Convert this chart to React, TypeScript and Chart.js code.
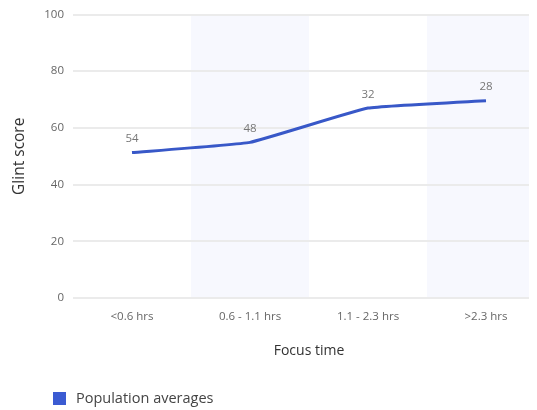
import React, { useEffect, useRef } from "react";
import { Chart, registerables } from "chart.js";

Chart.register(...registerables);

const categories = ["<0.6 hrs", "0.6 - 1.1 hrs", "1.1 - 2.3 hrs", ">2.3 hrs"];
const scores = [51.3, 54.9, 67.0, 69.6];
const counts = [54, 48, 32, 28];
const yTicks = [0, 20, 40, 60, 80, 100];
const shadedBands = [1, 3];
const seriesName = "Population averages";
const xTitle = "Focus time";
const yTitle = "Glint score";

const FONT = "'Open Sans', 'Noto Sans', sans-serif";
const LINE_COLOR = "#3858c8";

const bandPlugin = {
  id: "bands",
  beforeDraw(chart: any) {
    const { ctx, chartArea, scales } = chart;
    const x = scales.x;
    const w = x.width / categories.length;
    ctx.save();
    ctx.fillStyle = "#f7f8fe";
    shadedBands.forEach((i) => {
      const cx = x.getPixelForValue(i);
      ctx.fillRect(cx - w / 2, chartArea.top, w, chartArea.bottom - chartArea.top);
    });
    ctx.restore();
  },
};

const labelPlugin = {
  id: "pointLabels",
  afterDatasetsDraw(chart: any) {
    const { ctx } = chart;
    const meta = chart.getDatasetMeta(0);
    ctx.save();
    ctx.font = `11.5px ${FONT}`;
    ctx.fillStyle = "#777777";
    ctx.textAlign = "center";
    ctx.textBaseline = "bottom";
    meta.data.forEach((pt: any, i: number) => {
      ctx.fillText(String(counts[i]), pt.x, pt.y - 8);
    });
    ctx.restore();
  },
};

export default function App() {
  const ref = useRef<HTMLCanvasElement | null>(null);

  useEffect(() => {
    if (!ref.current) return;
    const chart = new Chart(ref.current, {
      type: "line",
      data: {
        labels: categories,
        datasets: [
          {
            label: seriesName,
            data: scores,
            borderColor: LINE_COLOR,
            backgroundColor: LINE_COLOR,
            borderWidth: 3,
            pointRadius: 0,
            tension: 0.1,
            fill: false,
          },
        ],
      },
      options: {
        responsive: false,
        animation: false,
        layout: { padding: { top: 6.5, right: 3, bottom: 40, left: 0 } },
        plugins: {
          legend: { display: false },
          tooltip: { enabled: false },
        },
        scales: {
          x: {
            type: "category",
            offset: true,
            grid: { display: false, drawTicks: false },
            border: { display: false },
            ticks: {
              padding: 12,
              color: "#666666",
              font: { family: FONT, size: 11.5 },
              maxRotation: 0,
            },
            title: {
              display: true,
              text: xTitle,
              color: "#333333",
              font: { family: FONT, size: 14 },
              padding: { top: 0, bottom: 11 },
            },
            afterFit: (s: any) => {
              s.height = 72;
              s.paddingLeft = 0;
              s.paddingRight = 0;
            },
          },
          y: {
            min: 0,
            max: 100,
            grid: { color: "#ebebeb", lineWidth: 2, drawTicks: false },
            border: { display: false },
            afterBuildTicks: (s: any) => {
              s.ticks = yTicks.map((v) => ({ value: v }));
            },
            ticks: {
              padding: 9,
              color: "#666666",
              font: { family: FONT, size: 11.5 },
            },
            title: {
              display: true,
              text: yTitle,
              color: "#333333",
              font: { family: FONT, size: 15.5 },
              padding: { top: 2, bottom: 0 },
            },
            afterFit: (s: any) => {
              s.width = 65;
              s.paddingTop = 0;
              s.paddingBottom = 0;
            },
          },
        },
      },
      plugins: [bandPlugin, labelPlugin],
    } as any);
    return () => chart.destroy();
  }, []);

  return (
    <div style={{ position: "relative", width: 529, height: 402, overflow: "hidden" }}>
      <canvas ref={ref} width={540} height={402} style={{ display: "block" }} />
      <div
        style={{
          position: "absolute",
          left: 45,
          top: 381,
          display: "flex",
          alignItems: "center",
          fontFamily: FONT,
          fontSize: 14.5,
          color: "#444444",
          lineHeight: "18px",
        }}
      >
        <span
          style={{
            display: "inline-block",
            width: 13,
            height: 13,
            background: "#3b5bd2",
            marginRight: 10,
          }}
        />
        <span>{seriesName}</span>
      </div>
    </div>
  );
}
